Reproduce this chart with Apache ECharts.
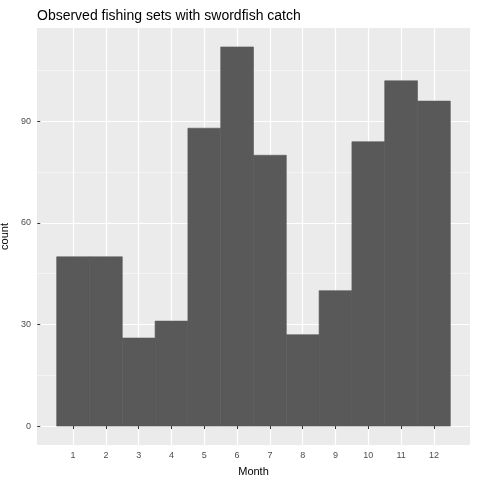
<!DOCTYPE html>
<html>
<head>
<meta charset="utf-8">
<script src="https://cdn.jsdelivr.net/npm/echarts@6/dist/echarts.min.js"></script>
<style>html,body{margin:0;padding:0;}#c{width:480px;height:480px;}</style>
</head>
<body>
<div id="c"></div>
<script>
var months = [1,2,3,4,5,6,7,8,9,10,11,12];
var counts = [50,50,26,31,88,112,80,27,40,84,102,96];
var yTicks = [0,30,60,90];
var yMinor = [15,45,75,105];

var chart = echarts.init(document.getElementById('c'));
var data = months.map(function(m, i){ return [m, counts[i]]; });

chart.setOption({
  animation: false,
  backgroundColor: '#fff',
  textStyle: { fontFamily: 'Liberation Sans, Arial, sans-serif' },
  title: {
    text: 'Observed fishing sets with swordfish catch',
    left: 32, top: 4,
    textStyle: { fontSize: 14, fontWeight: 'normal', color: '#000' }
  },
  grid: { left: 37, right: 10, top: 28, bottom: 35, show: true, backgroundColor: '#EBEBEB', borderWidth: 0,
          containLabel: false, outerBoundsMode: 'none' },
  xAxis: {
    type: 'value', min: -0.1, max: 13.1,
    name: 'Month', nameLocation: 'middle', nameGap: 21,
    nameTextStyle: { fontSize: 11, color: '#000' },
    axisLine: { show: false },
    axisTick: { show: true, customValues: months, length: 3, lineStyle: { color: '#333' } },
    axisLabel: { customValues: months, fontSize: 9, color: '#4D4D4D', margin: 6 },
    splitLine: { show: true, lineStyle: { color: '#fff', width: 1.2 } }
  },
  yAxis: {
    type: 'value', min: -5.6, max: 117.6,
    name: 'count', nameLocation: 'middle', nameGap: 24, nameRotate: 90,
    nameTextStyle: { fontSize: 11, color: '#000' },
    axisLine: { show: false },
    axisTick: { show: true, customValues: yTicks, length: 3, lineStyle: { color: '#333' } },
    axisLabel: { customValues: yTicks, fontSize: 9, color: '#4D4D4D', margin: 6 },
    splitLine: { show: true, lineStyle: { color: '#fff', width: 1.2 } }
  },
  series: [{
    type: 'line',
    data: [],
    z: 1,
    markLine: {
      silent: true, symbol: 'none', label: { show: false },
      lineStyle: { color: '#fff', width: 0.5, type: 'solid' },
      data: yMinor.map(function(v){ return { yAxis: v }; })
    }
  }, {
    type: 'custom',
    data: data,
    z: 5,
    renderItem: function(params, api){
      var x = api.value(0), y = api.value(1);
      var p0 = api.coord([x - 0.5, 0]);
      var p1 = api.coord([x + 0.5, y]);
      return { type: 'rect', shape: { x: p0[0], y: p1[1], width: p1[0] - p0[0], height: p0[1] - p1[1] },
               style: { fill: '#595959', stroke: '#595959', lineWidth: 0.6 } };
    }
  }]
});
</script>
</body>
</html>
